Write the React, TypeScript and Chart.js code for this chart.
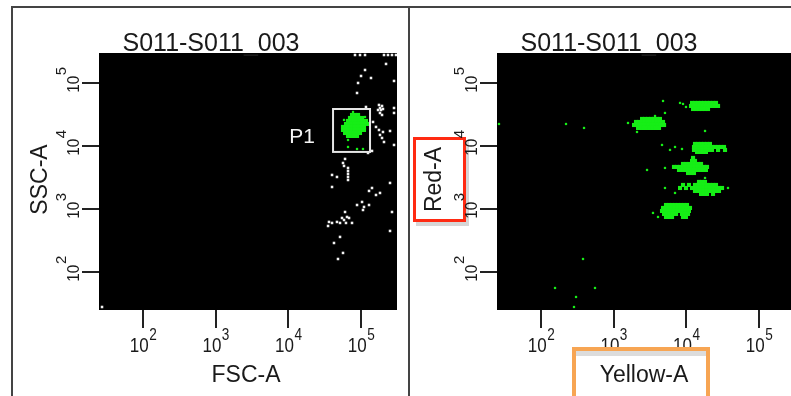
import React, { useEffect, useRef } from "react";
import { Chart, registerables } from "chart.js";

Chart.register(...registerables);

const FONT = '"Liberation Sans", Arial, sans-serif';

// ---------- axes ----------
const decadeTicks = [2, 3, 4, 5];
const xAxisRange = [24.8, 312600];
const yAxisRange = [24.9, 299000];
const panelTitle = "S011-S011_003";
const leftAxisTitles = ["FSC-A", "SSC-A"];
const rightAxisTitles = ["Yellow-A", "Red-A"];

// ---------- gate P1 (FSC-A / SSC-A values) ----------
const gateName = "P1";
const p1GateFsc = [41200, 133000];
const p1GateSsc = [8040, 38600];

// ---------- events, stored as log10 values [x, y] ----------
const fscSscOtherEventsLog: [number, number][] = [
  [4.917, 5.444], [4.986, 5.444], [5.055, 5.444], [5.316, 5.444], [5.371, 5.444], [5.426, 5.444], [5.481, 5.444],
  [5.344, 5.302], [5.055, 5.206], [5.0, 5.111], [5.137, 5.079], [5.454, 5.032], [4.959, 5.0], [4.945, 4.841],
  [5.068, 4.619], [5.247, 4.651], [5.289, 4.635], [5.261, 4.603], [5.234, 4.571], [5.275, 4.571], [5.302, 4.587],
  [5.261, 4.524], [5.289, 4.492], [5.454, 4.603], [5.454, 4.524], [5.165, 4.381], [5.206, 4.302], [5.247, 4.254],
  [5.302, 4.222], [5.399, 4.238], [5.261, 4.175], [5.289, 4.127], [5.316, 4.063], [5.454, 4.016], [5.151, 3.921],
  [5.096, 3.889], [4.78, 3.794], [4.752, 3.73], [4.766, 3.683], [4.821, 3.651], [4.821, 3.603], [4.821, 3.556],
  [4.821, 3.508], [4.821, 3.46], [4.601, 3.54], [4.669, 3.508], [4.601, 3.349], [5.399, 3.413], [5.151, 3.333],
  [5.11, 3.286], [5.206, 3.222], [5.261, 3.254], [5.014, 3.111], [4.945, 3.063], [5.041, 3.032], [5.11, 3.063],
  [5.027, 2.984], [5.426, 2.952], [4.78, 2.952], [4.807, 2.873], [4.738, 2.857], [4.835, 2.857], [4.766, 2.825],
  [4.559, 2.794], [4.601, 2.778], [4.546, 2.73], [4.669, 2.794], [4.711, 2.778], [4.793, 2.778], [4.876, 2.778],
  [5.399, 2.651], [4.711, 2.556], [4.628, 2.46], [4.752, 2.302], [4.683, 2.206], [1.436, 1.444],
];

// dense P1 population, rows of [log10 SSC, log10 FSC values]
const p1PopulationRows: [number, number[]][] = [
  [4.492, [4.876, 4.917, 4.959]],
  [4.444, [4.848, 4.89, 4.931, 4.972, 5.014]],
  [4.397, [4.821, 4.862, 4.903, 4.945, 4.986, 5.027, 5.068]],
  [4.349, [4.793, 4.835, 4.876, 4.917, 4.959, 5.0, 5.041, 5.082]],
  [4.302, [4.752, 4.793, 4.835, 4.876, 4.917, 4.959, 5.0, 5.041]],
  [4.254, [4.752, 4.793, 4.835, 4.876, 4.917, 4.959, 5.0, 5.041]],
  [4.206, [4.78, 4.821, 4.862, 4.903, 4.945, 4.986]],
  [4.159, [4.821, 4.862, 4.903, 4.945]],
];
const p1SparseLog: [number, number][] = [
  [4.89, 4.54], [4.766, 4.413], [5.055, 4.46], [4.821, 4.095], [4.821, 3.984], [4.945, 3.952], [5.027, 3.952],
];

// Yellow-A / Red-A populations, rows of [log10 Red, log10 Yellow values]
const popA: [number, number[]][] = [
  [4.683, [4.078, 4.119, 4.16, 4.202, 4.243, 4.284, 4.325, 4.367, 4.408]],
  [4.635, [4.064, 4.105, 4.147, 4.188, 4.229, 4.27, 4.312, 4.353, 4.394, 4.436]],
  [4.587, [4.092, 4.133, 4.174, 4.215, 4.257, 4.298]],
];
const popB: [number, number[]][] = [
  [4.429, [3.39, 3.431, 3.472, 3.514, 3.555, 3.596, 3.637]],
  [4.381, [3.307, 3.348, 3.39, 3.431, 3.472, 3.514, 3.555, 3.596, 3.637, 3.679]],
  [4.333, [3.28, 3.321, 3.362, 3.404, 3.445, 3.486, 3.527, 3.569, 3.61, 3.651, 3.693]],
  [4.286, [3.335, 3.376, 3.417, 3.459, 3.5, 3.541, 3.582, 3.624]],
];
const popC: [number, number[]][] = [
  [4.032, [4.119, 4.16, 4.202, 4.243, 4.284, 4.325]],
  [3.984, [4.105, 4.147, 4.188, 4.229, 4.27, 4.312, 4.353, 4.394, 4.436, 4.477, 4.518]],
  [3.937, [4.105, 4.147, 4.188, 4.229, 4.27, 4.312, 4.353, 4.436, 4.532]],
  [3.905, [4.147, 4.188, 4.229, 4.27]],
];
const popD: [number, number[]][] = [
  [3.81, [4.092]],
  [3.762, [4.078, 4.119]],
  [3.714, [3.954, 3.995, 4.036, 4.078, 4.119, 4.16, 4.202]],
  [3.667, [3.83, 3.871, 3.913, 3.954, 3.995, 4.036, 4.078, 4.119, 4.16, 4.202, 4.243, 4.284]],
  [3.619, [3.899, 3.94, 3.981, 4.023, 4.064, 4.105, 4.147, 4.188, 4.229, 4.27]],
  [3.571, [4.023, 4.064, 4.105]],
];
const popE: [number, number[]][] = [
  [3.429, [4.174, 4.215, 4.257]],
  [3.381, [3.954, 4.036, 4.119, 4.16, 4.202, 4.243, 4.284, 4.325, 4.367, 4.408]],
  [3.333, [3.913, 3.995, 4.078, 4.119, 4.16, 4.202, 4.243, 4.284, 4.325, 4.367, 4.408, 4.449, 4.491]],
  [3.286, [4.119, 4.16, 4.202, 4.243, 4.284, 4.325, 4.367, 4.408, 4.449]],
  [3.238, [4.202, 4.243, 4.284, 4.367]],
];
const popF: [number, number[]][] = [
  [3.063, [3.72, 3.761, 3.803, 3.844, 3.885, 3.926, 3.968, 4.009]],
  [3.016, [3.679, 3.72, 3.761, 3.803, 3.844, 3.885, 3.926, 3.968, 4.009, 4.05]],
  [2.968, [3.665, 3.706, 3.748, 3.789, 3.83, 3.871, 3.913, 3.954, 3.995, 4.036]],
  [2.921, [3.693, 3.734, 3.775, 3.816, 3.858, 3.94, 3.981, 4.023]],
  [2.873, [3.72, 3.761, 3.803, 3.954, 3.995]],
];
const yellowRedSparseLog: [number, number][] = [
  [3.954, 4.667], [3.995, 4.619], [3.913, 4.683], [3.679, 4.714],
  [3.197, 4.365], [3.321, 4.222], [3.569, 4.476], [3.706, 4.524],
  [3.665, 4.016], [3.775, 3.937], [3.844, 3.984], [3.94, 3.952], [4.257, 4.238],
  [3.706, 3.651], [3.459, 3.619],
  [3.706, 3.333], [3.844, 3.254], [4.573, 3.333], [4.257, 3.492],
  [3.541, 2.937], [3.61, 2.873],
  [1.422, 4.349], [2.344, 4.349], [2.592, 4.286], [2.578, 2.206], [2.193, 1.746], [2.743, 1.746],
  [2.482, 1.603], [2.454, 1.444],
];

const pairsToPoints = (arr: [number, number][]) => arr.map(([lx, ly]) => ({ x: 10 ** lx, y: 10 ** ly }));
const rowsToPoints = (rows: [number, number[]][]) =>
  rows.flatMap(([ly, xs]) => xs.map((lx) => ({ x: 10 ** lx, y: 10 ** ly })));

const GREEN = "#16ee16";

function drawScaled(ctx: CanvasRenderingContext2D, text: string, x: number, y: number, sx: number) {
  ctx.save();
  ctx.translate(x, y);
  ctx.scale(sx, 1);
  ctx.fillText(text, 0, 0);
  ctx.restore();
}

type PanelSpec = {
  xTitle: string;
  yTitle: string;
  yTitleGap: number;
  frame: number[][];
  gate?: { x: number[]; y: number[]; name: string };
  redBox?: number[];
  orangeBox?: number[];
};

function makePlugin(spec: PanelSpec) {
  return {
    id: "flowPanel",
    beforeDatasetsDraw(chart: any) {
      const { ctx, chartArea: a } = chart;
      ctx.save();
      ctx.fillStyle = "#000";
      ctx.fillRect(a.left, a.top, a.right - a.left, a.bottom - a.top);
      ctx.restore();
    },
    afterDatasetsDraw(chart: any) {
      const { ctx, chartArea: a, scales } = chart;
      const xs = scales.x;
      const ys = scales.y;
      ctx.save();
      ctx.textBaseline = "alphabetic";

      // frame lines
      ctx.fillStyle = "#444";
      for (const r of spec.frame) ctx.fillRect(r[0], r[1], r[2], r[3]);

      // gate
      if (spec.gate) {
        const gx0 = xs.getPixelForValue(spec.gate.x[0]);
        const gx1 = xs.getPixelForValue(spec.gate.x[1]);
        const gy0 = ys.getPixelForValue(spec.gate.y[0]);
        const gy1 = ys.getPixelForValue(spec.gate.y[1]);
        ctx.strokeStyle = "#e6e6e6";
        ctx.lineWidth = 2;
        ctx.strokeRect(gx0, gy1, gx1 - gx0, gy0 - gy1);
        ctx.fillStyle = "#f4f4f4";
        ctx.font = `21px ${FONT}`;
        ctx.textAlign = "right";
        ctx.fillText(spec.gate.name, gx0 - 18, gy0 - 9);
      }

      // tick marks
      ctx.strokeStyle = "#222";
      ctx.lineWidth = 2;
      for (const k of decadeTicks) {
        const px = Math.round(xs.getPixelForValue(10 ** k));
        ctx.beginPath();
        ctx.moveTo(px, a.bottom);
        ctx.lineTo(px, a.bottom + 18);
        ctx.stroke();
        const py = Math.round(ys.getPixelForValue(10 ** k));
        ctx.beginPath();
        ctx.moveTo(a.left - 17, py);
        ctx.lineTo(a.left, py);
        ctx.stroke();
      }

      // red highlight box
      if (spec.redBox) {
        const [bx, by, bw, bh] = spec.redBox;
        ctx.fillStyle = "#d6d6d6";
        ctx.fillRect(bx + 3, by + 4, bw, bh);
        ctx.fillStyle = "#fff";
        ctx.fillRect(bx, by, bw, bh);
        ctx.strokeStyle = "#ff2a12";
        ctx.lineWidth = 3;
        ctx.strokeRect(bx + 1.5, by + 1.5, bw - 3, bh - 3);
      }

      ctx.fillStyle = "#1a1a1a";
      ctx.textAlign = "left";
      // y tick labels (rotated)
      for (const k of decadeTicks) {
        const py = ys.getPixelForValue(10 ** k);
        ctx.save();
        ctx.translate(a.left - 20, py);
        ctx.rotate(-Math.PI / 2);
        ctx.font = `17px ${FONT}`;
        const wb = ctx.measureText("10").width * 0.9;
        ctx.font = `15px ${FONT}`;
        const ws = ctx.measureText(String(k)).width;
        const start = 3 - (wb + ws) / 2;
        ctx.font = `17px ${FONT}`;
        drawScaled(ctx, "10", start, 0, 0.9);
        ctx.font = `15px ${FONT}`;
        ctx.fillText(String(k), start + wb + 0.5, -13);
        ctx.restore();
      }

      // y title
      ctx.save();
      ctx.translate(a.left - spec.yTitleGap, (a.top + a.bottom) / 2 - 2);
      ctx.rotate(-Math.PI / 2);
      ctx.font = `23px ${FONT}`;
      ctx.textAlign = "center";
      ctx.fillText(spec.yTitle, 0, 0);
      ctx.restore();

      // x tick labels
      ctx.textAlign = "left";
      for (const k of decadeTicks) {
        const px = xs.getPixelForValue(10 ** k);
        ctx.font = `20px ${FONT}`;
        const wb = ctx.measureText("10").width * 0.85;
        ctx.font = `16px ${FONT}`;
        const ws = ctx.measureText(String(k)).width * 0.85;
        const start = px - (wb + ws) / 2;
        ctx.font = `20px ${FONT}`;
        drawScaled(ctx, "10", start, a.bottom + 42, 0.85);
        ctx.font = `16px ${FONT}`;
        drawScaled(ctx, String(k), start + wb + 0.5, a.bottom + 30, 0.85);
      }

      // orange highlight box
      if (spec.orangeBox) {
        const [bx, by, bw, bh] = spec.orangeBox;
        ctx.fillStyle = "#fff";
        ctx.fillRect(bx, by, bw, bh);
        ctx.fillStyle = "#dcdcdc";
        ctx.fillRect(bx + 4, by + 4, bw - 8, 5);
        ctx.strokeStyle = "#f7a553";
        ctx.lineWidth = 4;
        ctx.strokeRect(bx + 2, by + 2, bw - 4, bh);
      }

      // x title
      ctx.fillStyle = "#1a1a1a";
      ctx.font = `23px ${FONT}`;
      ctx.textAlign = "center";
      ctx.fillText(spec.xTitle, a.left + 147, 382);

      // panel title
      ctx.font = `25px ${FONT}`;
      ctx.fillText(panelTitle, a.left + 112, 51);

      ctx.restore();
    },
  };
}

type PanelProps = {
  left: number;
  width: number;
  canvasWidth: number;
  padLeft: number;
  datasets: any[];
  spec: PanelSpec;
};

function Panel({ left, width, canvasWidth, padLeft, datasets, spec }: PanelProps) {
  const ref = useRef<HTMLCanvasElement>(null);
  useEffect(() => {
    const chart = new Chart(ref.current as HTMLCanvasElement, {
      type: "scatter",
      data: { datasets },
      options: {
        responsive: false,
        animation: false,
        events: [],
        layout: {
          autoPadding: false,
          padding: { left: padLeft, top: 53, right: canvasWidth - padLeft - 298, bottom: 86 },
        },
        plugins: {
          legend: { display: false },
          title: { display: false },
          tooltip: { enabled: false },
        },
        scales: {
          x: { type: "logarithmic", min: xAxisRange[0], max: xAxisRange[1], display: false },
          y: { type: "logarithmic", min: yAxisRange[0], max: yAxisRange[1], display: false },
        },
      } as any,
      plugins: [makePlugin(spec) as any],
    });
    return () => chart.destroy();
  }, []);
  return (
    <div style={{ position: "absolute", left, top: 0, width, height: 396, overflow: "hidden" }}>
      <canvas ref={ref} width={canvasWidth} height={396} style={{ display: "block", width: canvasWidth, height: 396 }} />
    </div>
  );
}

const dot = (data: any[], color: string, r: number) => ({
  data,
  pointStyle: "rect",
  pointRadius: r,
  backgroundColor: color,
  borderColor: color,
  borderWidth: 0,
  showLine: false,
});

export default function App() {
  const leftDatasets = [
    dot(pairsToPoints(fscSscOtherEventsLog), "#f2f2f2", 1.8),
    dot(rowsToPoints(p1PopulationRows), GREEN, 2.9),
    dot(pairsToPoints(p1SparseLog), GREEN, 1.6),
  ];
  const rightDatasets = [
    dot([popA, popB, popC, popD, popE, popF].flatMap(rowsToPoints), GREEN, 2.9),
    dot(pairsToPoints(yellowRedSparseLog), GREEN, 1.6),
  ];
  const leftSpec: PanelSpec = {
    xTitle: leftAxisTitles[0],
    yTitle: leftAxisTitles[1],
    yTitleGap: 52,
    frame: [
      [12, 6, 398, 2],
      [11, 6, 2, 390],
      [408, 6, 2, 390],
    ],
    gate: { x: p1GateFsc, y: p1GateSsc, name: gateName },
  };
  const rightSpec: PanelSpec = {
    xTitle: rightAxisTitles[0],
    yTitle: rightAxisTitles[1],
    yTitleGap: 56,
    frame: [[0, 6, 392, 2]],
    redBox: [3, 137, 53, 85],
    orangeBox: [162, 347, 138, 60],
  };
  return (
    <div style={{ position: "absolute", left: 0, top: 0, width: 791, height: 396, overflow: "hidden", background: "#fff" }}>
      <Panel left={0} width={410} canvasWidth={410} padLeft={99} datasets={leftDatasets} spec={leftSpec} />
      <Panel left={410} width={381} canvasWidth={392} padLeft={87} datasets={rightDatasets} spec={rightSpec} />
    </div>
  );
}
